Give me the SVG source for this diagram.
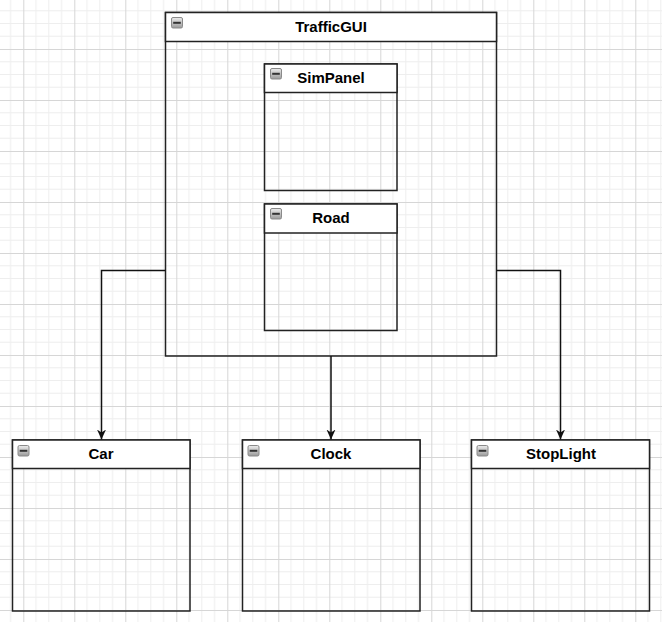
<svg xmlns="http://www.w3.org/2000/svg" width="662" height="622" viewBox="0 0 662 622">
<style>
.box{fill:none;stroke:#222;stroke-width:1.5}
.hdr{fill:#fff;stroke:#222;stroke-width:1.5}
.t{font-family:"Liberation Sans",Arial,sans-serif;font-size:15px;font-weight:bold;fill:#000;text-anchor:middle}
.edge{fill:none;stroke:#111;stroke-width:1.5}
</style>
<defs>
<pattern id="grid" patternUnits="userSpaceOnUse" x="23.3" y="-2" width="51" height="51">
<rect width="51" height="51" fill="#fff"/>
<g stroke="#eeeeee" stroke-width="1">
<line x1="12.75" y1="0" x2="12.75" y2="51"/>
<line x1="25.5" y1="0" x2="25.5" y2="51"/>
<line x1="38.25" y1="0" x2="38.25" y2="51"/>
<line x1="0" y1="12.75" x2="51" y2="12.75"/>
<line x1="0" y1="25.5" x2="51" y2="25.5"/>
<line x1="0" y1="38.25" x2="51" y2="38.25"/>
</g>
<g stroke="#d6d6d6" stroke-width="1">
<line x1="0.5" y1="0" x2="0.5" y2="51"/>
<line x1="0" y1="0.5" x2="51" y2="0.5"/>
</g>
</pattern>
<linearGradient id="ig" x1="0" y1="0" x2="0" y2="1">
<stop offset="0" stop-color="#ececec"/>
<stop offset="1" stop-color="#9a9a9a"/>
</linearGradient>
<g id="icon">
<rect x="0.5" y="0.5" width="11" height="10.5" rx="1.5" fill="url(#ig)" stroke="#8a8a8a" stroke-width="1"/>
<rect x="2.2" y="4.8" width="7.6" height="2" fill="#333"/>
</g>
<marker id="arr" viewBox="0 0 10 10" refX="10" refY="5" markerWidth="10" markerHeight="10" orient="auto" markerUnits="userSpaceOnUse">
<path d="M0,0.5 L10,5 L0,9.5 L3,5 Z" fill="#111"/>
</marker>
</defs>
<rect width="662" height="622" fill="url(#grid)"/>

<g id="TrafficGUI">
<rect class="box" x="165.5" y="12.5" width="331" height="343.5"/>
<rect class="hdr" x="165.5" y="12.5" width="331" height="29"/>
<use href="#icon" x="171" y="17"/>
<text class="t" x="331" y="32">TrafficGUI</text>
</g>

<g id="SimPanel">
<rect class="box" x="264.5" y="64" width="132.5" height="126.5"/>
<rect class="hdr" x="264.5" y="64" width="132.5" height="28.5"/>
<use href="#icon" x="270" y="68"/>
<text class="t" x="331" y="82.5">SimPanel</text>
</g>

<g id="Road">
<rect class="box" x="264.5" y="204" width="132.5" height="126.5"/>
<rect class="hdr" x="264.5" y="204" width="132.5" height="29"/>
<use href="#icon" x="270" y="208"/>
<text class="t" x="331" y="223">Road</text>
</g>

<g id="Car">
<rect class="box" x="12.5" y="440" width="177.5" height="171"/>
<rect class="hdr" x="12.5" y="440" width="177.5" height="28.5"/>
<use href="#icon" x="17.5" y="445"/>
<text class="t" x="101" y="459">Car</text>
</g>

<g id="Clock">
<rect class="box" x="242.5" y="440" width="177.5" height="171"/>
<rect class="hdr" x="242.5" y="440" width="177.5" height="28.5"/>
<use href="#icon" x="247.5" y="445"/>
<text class="t" x="331" y="459">Clock</text>
</g>

<g id="StopLight">
<rect class="box" x="471.5" y="440" width="178" height="171"/>
<rect class="hdr" x="471.5" y="440" width="178" height="28.5"/>
<use href="#icon" x="476.5" y="445"/>
<text class="t" x="561" y="459">StopLight</text>
</g>

<g id="connectors">
<path class="edge" d="M165.5,270.5 H101.5 V439.5" marker-end="url(#arr)"/>
<path class="edge" d="M331,356 V439.5" marker-end="url(#arr)"/>
<path class="edge" d="M496.5,270.5 H560.5 V439.5" marker-end="url(#arr)"/>
</g>
</svg>
